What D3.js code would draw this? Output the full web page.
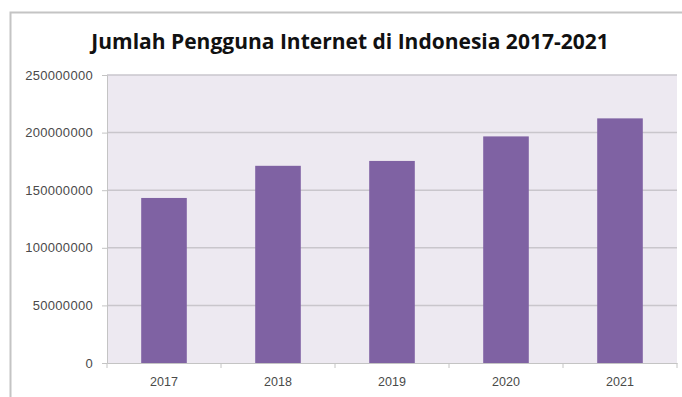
<!DOCTYPE html>
<html>
<head>
<meta charset="utf-8">
<script src="https://cdn.jsdelivr.net/npm/d3@7"></script>
<style>
  body { margin: 0; background: #fff; }
  svg { display: block; font-family: "Open Sans", sans-serif; }
</style>
</head>
<body>
<div id="chart"></div>
<script>
// data
const years = ['2017', '2018', '2019', '2020', '2021'];
const users = [143260000, 171170000, 175400000, 196700000, 212350000];
const yTicks = [0, 50000000, 100000000, 150000000, 200000000, 250000000];

const W = 682, H = 397;
const margin = { top: 75, right: 5, bottom: 34, left: 107 };
const width = W - margin.left - margin.right;
const height = H - margin.top - margin.bottom;

const svg = d3.select('#chart').append('svg')
  .attr('width', W)
  .attr('height', H);

// outer frame (only top and left visible)
svg.append('path')
  .attr('d', `M10.5,${H} V12.5 H${W}`)
  .attr('fill', 'none')
  .attr('stroke', '#c4c4c4')
  .attr('stroke-width', 2);

svg.append('text')
  .attr('x', 350)
  .attr('y', 49)
  .attr('text-anchor', 'middle')
  .style('font-size', '21px')
  .style('font-weight', 'bold')
  .attr('fill', '#111')
  .text('Jumlah Pengguna Internet di Indonesia 2017-2021');

const g = svg.append('g')
  .attr('transform', `translate(${margin.left},${margin.top})`);

g.append('rect')
  .attr('width', width)
  .attr('height', height)
  .attr('fill', '#ede9f1');

const x = d3.scaleBand()
  .domain(years)
  .range([0, width])
  .paddingInner(0.6)
  .paddingOuter(0.3);

const y = d3.scaleLinear()
  .domain([0, 250000000])
  .range([height, 0]);

// gridlines
g.selectAll('.grid')
  .data(yTicks.slice(1))
  .enter()
  .append('line')
  .attr('x1', 0)
  .attr('x2', width)
  .attr('y1', d => y(d))
  .attr('y2', d => y(d))
  .attr('stroke', '#c9c6cc')
  .attr('stroke-width', 1.5);

g.selectAll('.bar')
  .data(years)
  .enter()
  .append('rect')
  .attr('x', d => x(d))
  .attr('y', (d, i) => y(users[i]))
  .attr('width', x.bandwidth())
  .attr('height', (d, i) => height - y(users[i]))
  .attr('fill', '#7f62a3');

// y axis
const yAxis = g.append('g')
  .call(d3.axisLeft(y).tickValues(yTicks).tickSize(5).tickPadding(9).tickFormat(d3.format('d')));
yAxis.select('.domain').attr('stroke', '#c4c4c4');
yAxis.selectAll('.tick line').attr('stroke', '#c4c4c4');
yAxis.selectAll('text')
  .attr('fill', '#4a4a4a')
  .style('font-size', '13px')
  .style('letter-spacing', '0.3px');

// x axis with ticks at category boundaries
const xAxis = g.append('g')
  .attr('transform', `translate(0,${height})`)
  .call(d3.axisBottom(x).tickSize(0).tickPadding(14));
xAxis.select('.domain').attr('stroke', '#c4c4c4');
xAxis.selectAll('text').attr('fill', '#4a4a4a').style('font-size', '12.5px');

xAxis.selectAll('.bound')
  .data(d3.range(years.length + 1))
  .enter()
  .append('line')
  .attr('x1', i => i * width / years.length)
  .attr('x2', i => i * width / years.length)
  .attr('y1', 0)
  .attr('y2', 5)
  .attr('stroke', '#c4c4c4');
</script>
</body>
</html>
